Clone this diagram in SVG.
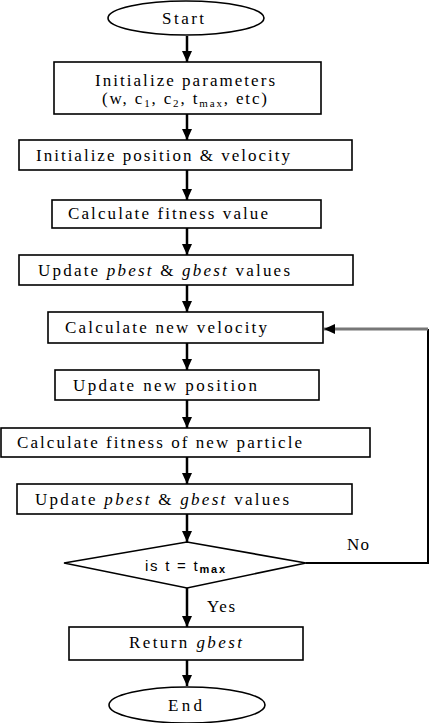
<svg xmlns="http://www.w3.org/2000/svg" width="445" height="723" viewBox="0 0 445 723">
<defs>
<marker id="ah" markerUnits="userSpaceOnUse" markerWidth="12" markerHeight="12" viewBox="0 0 12 12" refX="11" refY="6" orient="auto">
<path d="M0,1 L11,6 L0,11 Z" fill="#000"/>
</marker>
<style>
.box{fill:#fff;stroke:#000;stroke-width:1.6}
.t{font-family:"Liberation Serif","Times New Roman",serif;font-size:17px;fill:#000}
.s{font-family:"Liberation Sans",Arial,sans-serif;font-size:15px;fill:#000}
.c{stroke:#000;stroke-width:2.5;fill:none}
.i{font-style:italic}
</style>
</defs>
<rect width="445" height="723" fill="#fff"/>
<g id="start">
<ellipse class="box" cx="186" cy="18" rx="78" ry="17"/>
<text class="t" x="162" y="24" textLength="42" lengthAdjust="spacing">Start</text>
</g>
<g id="init-params">
<rect class="box" x="54" y="62" width="267" height="52"/>
<text class="t" x="95" y="86" textLength="180" lengthAdjust="spacing">Initialize parameters</text>
<text class="t" x="102" y="104" textLength="165" lengthAdjust="spacing">(w, c<tspan font-size="11" dy="3">1</tspan><tspan dy="-3">, c</tspan><tspan font-size="11" dy="3">2</tspan><tspan dy="-3">, t</tspan><tspan font-size="11" dy="3">max</tspan><tspan dy="-3">, etc)</tspan></text>
</g>
<g id="init-pos">
<rect class="box" x="19" y="140" width="333" height="30"/>
<text class="t" x="36" y="161" textLength="254" lengthAdjust="spacing">Initialize position &amp; velocity</text>
</g>
<g id="calc-fit">
<rect class="box" x="52" y="200" width="269" height="28"/>
<text class="t" x="68" y="219" textLength="200" lengthAdjust="spacing">Calculate fitness value</text>
</g>
<g id="update1">
<rect class="box" x="19" y="255" width="334" height="30"/>
<text class="t" x="38" y="276" textLength="252" lengthAdjust="spacing">Update <tspan class="i">pbest</tspan> &amp; <tspan class="i">gbest</tspan> values</text>
</g>
<g id="calc-vel">
<rect class="box" x="48" y="312" width="275" height="31"/>
<text class="t" x="65" y="333" textLength="202" lengthAdjust="spacing">Calculate new velocity</text>
</g>
<g id="update-pos">
<rect class="box" x="55" y="370" width="264" height="30"/>
<text class="t" x="73" y="391" textLength="184" lengthAdjust="spacing">Update new position</text>
</g>
<g id="calc-fit2">
<rect class="box" x="1" y="428" width="369" height="29"/>
<text class="t" x="17" y="448" textLength="285" lengthAdjust="spacing">Calculate fitness of new particle</text>
</g>
<g id="update2">
<rect class="box" x="17" y="484" width="335" height="30"/>
<text class="t" x="35" y="505" textLength="254" lengthAdjust="spacing">Update <tspan class="i">pbest</tspan> &amp; <tspan class="i">gbest</tspan> values</text>
</g>
<g id="decision">
<polygon class="box" points="64,563 187,542 306,563 187,588"/>
<text class="s" x="145" y="571" textLength="80" lengthAdjust="spacing">is t = t<tspan font-size="11" font-weight="bold" dy="2">max</tspan></text>
</g>
<g id="return">
<rect class="box" x="69" y="627" width="234" height="33"/>
<text class="t" x="129" y="648" textLength="113" lengthAdjust="spacing">Return <tspan class="i">gbest</tspan></text>
</g>
<g id="end">
<ellipse class="box" cx="187" cy="705" rx="78" ry="18"/>
<text class="t" x="168" y="711" textLength="34" lengthAdjust="spacing">End</text>
</g>
<g id="connectors">
<line class="c" x1="187" y1="36" x2="187" y2="62" marker-end="url(#ah)"/>
<line class="c" x1="187" y1="114" x2="187" y2="140" marker-end="url(#ah)"/>
<line class="c" x1="187" y1="170" x2="187" y2="200" marker-end="url(#ah)"/>
<line class="c" x1="187" y1="228" x2="187" y2="255" marker-end="url(#ah)"/>
<line class="c" x1="187" y1="285" x2="187" y2="312" marker-end="url(#ah)"/>
<line class="c" x1="187" y1="343" x2="187" y2="370" marker-end="url(#ah)"/>
<line class="c" x1="187" y1="400" x2="187" y2="428" marker-end="url(#ah)"/>
<line class="c" x1="187" y1="457" x2="187" y2="484" marker-end="url(#ah)"/>
<line class="c" x1="187" y1="514" x2="187" y2="542" marker-end="url(#ah)"/>
<line class="c" x1="187" y1="588" x2="187" y2="627" marker-end="url(#ah)"/>
<line class="c" x1="187" y1="660" x2="187" y2="686" marker-end="url(#ah)"/>
<polyline points="306,563 428,563 428,329" fill="none" stroke="#000" stroke-width="2"/>
<line x1="428" y1="329" x2="324" y2="329" stroke="#777" stroke-width="3" marker-end="url(#ah)"/>
<text class="t" x="347" y="550" textLength="22" lengthAdjust="spacing">No</text>
<text class="t" x="207" y="612" textLength="28" lengthAdjust="spacing">Yes</text>
</g>
</svg>
